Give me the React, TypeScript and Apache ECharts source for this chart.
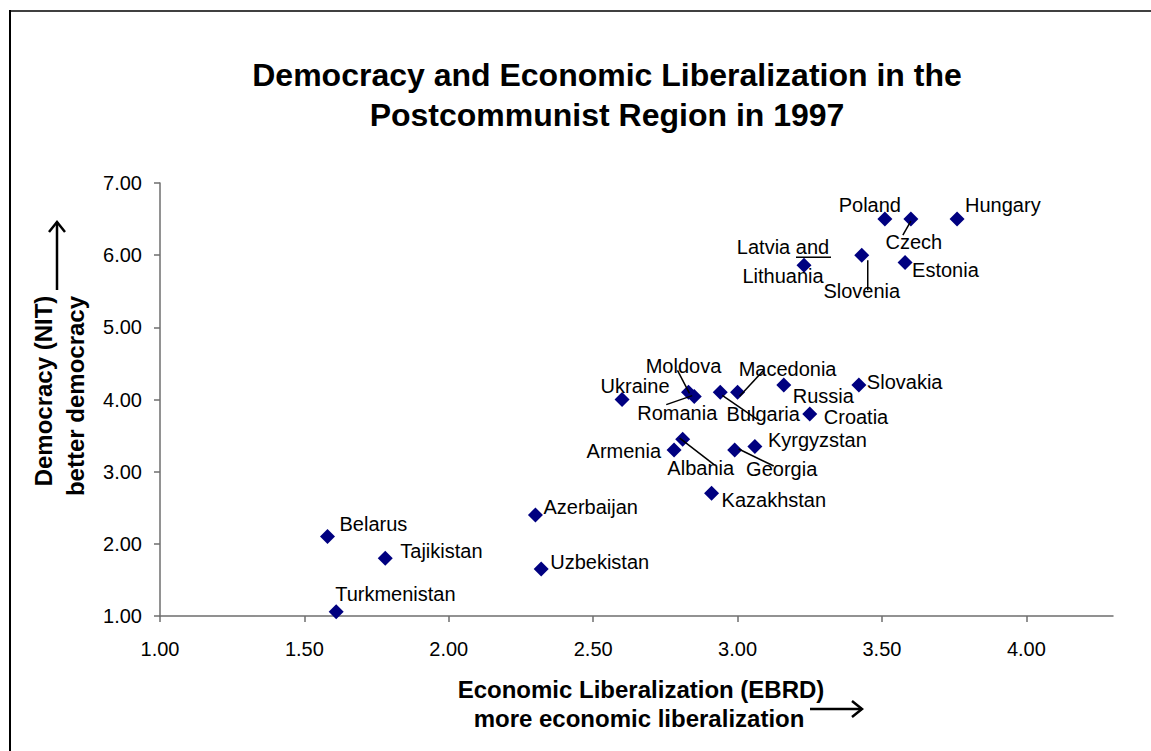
import React, { useEffect, useRef } from "react";
import * as echarts from "echarts";

// ---- Data ----
const countries = [
  "Hungary", "Poland", "Czech", "Slovenia", "Estonia", "Latvia and Lithuania",
  "Slovakia", "Russia", "Croatia", "Macedonia", "Bulgaria", "Moldova", "Romania",
  "Ukraine", "Armenia", "Albania", "Georgia", "Kyrgyzstan", "Kazakhstan",
  "Azerbaijan", "Uzbekistan", "Belarus", "Tajikistan", "Turkmenistan",
];
const econLib = [
  3.76, 3.51, 3.6, 3.43, 3.58, 3.23,
  3.42, 3.16, 3.25, 3.0, 2.94, 2.83, 2.85,
  2.6, 2.78, 2.81, 2.99, 3.06, 2.91,
  2.3, 2.32, 1.58, 1.78, 1.61,
];
const democracy = [
  6.5, 6.5, 6.5, 6.0, 5.9, 5.86,
  4.2, 4.2, 3.8, 4.1, 4.1, 4.1, 4.04,
  4.0, 3.3, 3.45, 3.3, 3.35, 2.7,
  2.4, 1.65, 2.1, 1.8, 1.06,
];
const xTicks = [1, 1.5, 2, 2.5, 3, 3.5, 4];
const yTicks = [1, 2, 3, 4, 5, 6, 7];

const titleText = "Democracy and Economic Liberalization in the\nPostcommunist Region in 1997";
const xName1 = "Economic Liberalization (EBRD)";
const xName2 = "more economic liberalization";
const yName1 = "Democracy (NIT)";
const yName2 = "better democracy";

// ---- Label placement (pixel offsets from each point) ----
type LabelSpec = {
  dx: number;
  dy: number;
  align: "left" | "center" | "right";
  text?: string;
  lineHeight?: number;
  leader?: number[];
};
const labelLayout: Record<string, LabelSpec> = {
  Hungary: { dx: 8, dy: -14, align: "left" },
  Poland: { dx: -15, dy: -14, align: "center" },
  Czech: { dx: 3, dy: 23, align: "center", leader: [0, 2, -8, 16] },
  Slovenia: { dx: 0, dy: 36, align: "center", leader: [6, 5, 6, 35] },
  Estonia: { dx: 7, dy: 8, align: "left" },
  "Latvia and Lithuania": {
    dx: -21, dy: -3.5, align: "center", text: "Latvia and\nLithuania", lineHeight: 29,
    leader: [-8, -8, 27, -8],
  },
  Slovakia: { dx: 8, dy: -3, align: "left" },
  Russia: { dx: 9, dy: 11, align: "left" },
  Croatia: { dx: 14, dy: 3, align: "left" },
  Macedonia: { dx: 50, dy: -23, align: "center", leader: [2, 4, 26, -22] },
  Bulgaria: { dx: 43, dy: 22, align: "center", leader: [2, 3, 37, 27] },
  Moldova: { dx: -5, dy: -26, align: "center", leader: [-11, -22, 1, 1] },
  Romania: { dx: -17, dy: 16, align: "center", leader: [-28, 8, -2, -1] },
  Ukraine: { dx: 13, dy: -14, align: "center" },
  Armenia: { dx: -13, dy: 1, align: "right" },
  Albania: { dx: 18, dy: 29, align: "center", leader: [-3, -1, 32, 26] },
  Georgia: { dx: 47, dy: 19, align: "center", leader: [4, -1, 39, 16] },
  Kyrgyzstan: { dx: 13, dy: -6, align: "left" },
  Kazakhstan: { dx: 10, dy: 7, align: "left" },
  Azerbaijan: { dx: 8, dy: -8, align: "left" },
  Uzbekistan: { dx: 9, dy: -7, align: "left" },
  Belarus: { dx: 12, dy: -13, align: "left" },
  Tajikistan: { dx: 15, dy: -7, align: "left" },
  Turkmenistan: { dx: -1, dy: -18, align: "left" },
};

const FONT = '"Liberation Sans", Arial, Helvetica, sans-serif';

export default function App() {
  const ref = useRef<HTMLDivElement>(null);

  useEffect(() => {
    if (!ref.current) return;
    const chart = echarts.init(ref.current, undefined, { renderer: "svg" });
    const points = econLib.map((x, i) => [x, democracy[i], i]);

    const option: any = {
      animation: false,
      backgroundColor: "#ffffff",
      title: {
        text: titleText,
        left: 602,
        top: 50,
        textAlign: "center",
        textStyle: {
          fontFamily: FONT,
          fontSize: 32,
          fontWeight: "bold",
          color: "#000",
          lineHeight: 40,
        },
      },
      grid: { left: 160, right: 38, top: 183, bottom: 135 },
      xAxis: {
        type: "value",
        min: 1,
        max: 4.3,
        interval: 0.5,
        splitLine: { show: false },
        axisLine: { onZero: false, lineStyle: { color: "#6e6e6e", width: 1.5 } },
        axisTick: {
          show: true,
          length: 6,
          inside: false,
          customValues: xTicks,
          lineStyle: { color: "#6e6e6e", width: 1.5 },
        },
        axisLabel: {
          customValues: xTicks,
          formatter: (v: number) => v.toFixed(2),
          fontFamily: FONT,
          fontSize: 20,
          color: "#000",
          margin: 23,
        },
      },
      yAxis: {
        type: "value",
        min: 1,
        max: 7,
        interval: 1,
        splitLine: { show: false },
        axisLine: { onZero: false, lineStyle: { color: "#6e6e6e", width: 1.5 } },
        axisTick: {
          show: true,
          length: 6,
          inside: false,
          customValues: yTicks,
          lineStyle: { color: "#6e6e6e", width: 1.5 },
        },
        axisLabel: {
          customValues: yTicks,
          formatter: (v: number) => v.toFixed(2),
          fontFamily: FONT,
          fontSize: 20,
          color: "#000",
          margin: 18,
        },
      },
      graphic: [
        // outer frame
        { type: "line", shape: { x1: 9, y1: 11, x2: 1151, y2: 11 }, style: { stroke: "#404040", lineWidth: 2 } },
        { type: "line", shape: { x1: 10, y1: 10, x2: 10, y2: 751 }, style: { stroke: "#000", lineWidth: 2 } },
        // y axis name
        {
          type: "text", x: 43, y: 391, rotation: Math.PI / 2,
          style: { text: yName1, fontFamily: FONT, fontSize: 24, fontWeight: "bold", fill: "#000", align: "center", verticalAlign: "middle" },
        },
        {
          type: "text", x: 75, y: 396, rotation: Math.PI / 2,
          style: { text: yName2, fontFamily: FONT, fontSize: 24, fontWeight: "bold", fill: "#000", align: "center", verticalAlign: "middle" },
        },
        // up arrow
        { type: "line", shape: { x1: 57, y1: 290, x2: 57, y2: 222 }, style: { stroke: "#000", lineWidth: 2.5 } },
        { type: "polyline", shape: { points: [[49, 232], [57, 222], [65, 232]] }, style: { stroke: "#000", lineWidth: 2.5, fill: "none" } },
        // x axis name
        {
          type: "text", x: 641, y: 689,
          style: { text: xName1, fontFamily: FONT, fontSize: 24, fontWeight: "bold", fill: "#000", align: "center", verticalAlign: "middle" },
        },
        {
          type: "text", x: 639, y: 718,
          style: { text: xName2, fontFamily: FONT, fontSize: 24, fontWeight: "bold", fill: "#000", align: "center", verticalAlign: "middle" },
        },
        // right arrow
        { type: "line", shape: { x1: 810, y1: 709, x2: 862, y2: 709 }, style: { stroke: "#000", lineWidth: 2.5 } },
        { type: "polyline", shape: { points: [[852, 701], [862, 709], [852, 717]] }, style: { stroke: "#000", lineWidth: 2.5, fill: "none" } },
      ],
      series: [
        {
          type: "scatter",
          data: points,
          symbol: "diamond",
          symbolSize: 15,
          itemStyle: { color: "#000080", opacity: 1 },
          z: 2,
        },
        {
          type: "custom",
          data: points,
          encode: { x: 0, y: 1 },
          z: 3,
          clip: false,
          renderItem: (params: any, api: any) => {
            const i = params.dataIndex;
            const name = countries[i];
            const spec = labelLayout[name];
            const p = api.coord([api.value(0), api.value(1)]);
            const children: any[] = [
              {
                type: "text",
                x: p[0] + spec.dx,
                y: p[1] + spec.dy,
                style: {
                  text: spec.text ?? name,
                  fontFamily: FONT,
                  fontSize: 20,
                  fill: "#000",
                  align: spec.align,
                  verticalAlign: "middle",
                  lineHeight: spec.lineHeight ?? 22,
                },
              },
            ];
            if (spec.leader) {
              const [a, b, c, d] = spec.leader;
              children.push({
                type: "line",
                shape: { x1: p[0] + a, y1: p[1] + b, x2: p[0] + c, y2: p[1] + d },
                style: { stroke: "#000", lineWidth: 1.5 },
              });
            }
            return { type: "group", children };
          },
        },
      ],
    };

    chart.setOption(option);
    return () => chart.dispose();
  }, []);

  return (
    <div
      ref={ref}
      style={{ position: "fixed", left: 0, top: 0, width: 1151, height: 751 }}
    />
  );
}
